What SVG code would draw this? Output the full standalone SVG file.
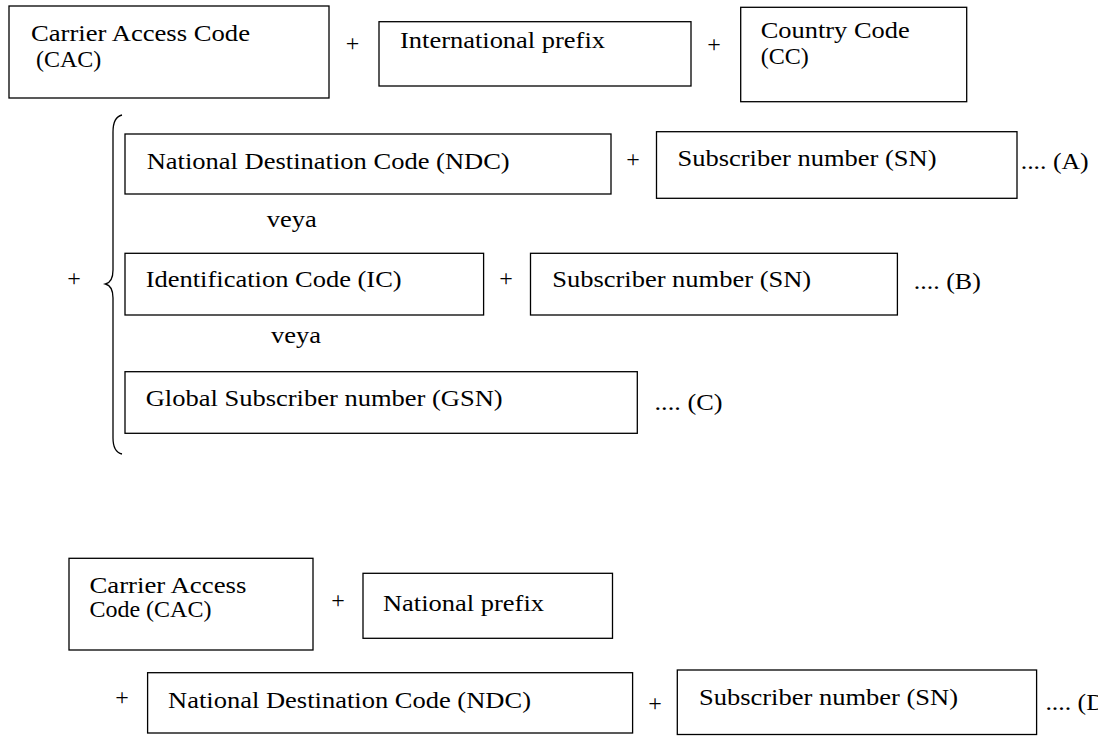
<svg xmlns="http://www.w3.org/2000/svg" width="1098" height="736" viewBox="0 0 1098 736">
<style>
.box{fill:#fff;stroke:#000;stroke-width:1.3}
text{font-family:"Liberation Serif","Times New Roman",serif;font-size:24px;fill:#000}
.op{text-anchor:middle}
.brace{fill:none;stroke:#000;stroke-width:1.3}
</style>
<rect width="1098" height="736" fill="#fff"/>

<g id="cac1"><rect class="box" x="9" y="6" width="320" height="92"/>
<text x="31" y="41" textLength="219" lengthAdjust="spacingAndGlyphs">Carrier Access Code</text>
<text x="36" y="66.5">(CAC)</text></g>

<g id="intprefix"><rect class="box" x="379" y="21.7" width="312" height="64.3"/>
<text x="400" y="47.7" textLength="205" lengthAdjust="spacingAndGlyphs">International prefix</text></g>

<g id="cc"><rect class="box" x="740.7" y="7.3" width="226" height="94.4"/>
<text x="760.7" y="38" textLength="149" lengthAdjust="spacingAndGlyphs">Country Code</text>
<text x="760.7" y="63.5">(CC)</text></g>

<g id="ndcA"><rect class="box" x="125" y="134" width="486" height="60"/>
<text x="146.7" y="169.3" textLength="363" lengthAdjust="spacingAndGlyphs">National Destination Code (NDC)</text></g>

<g id="snA"><rect class="box" x="656.5" y="131.7" width="360.5" height="66.6"/>
<text x="677.5" y="166" textLength="259" lengthAdjust="spacingAndGlyphs">Subscriber number (SN)</text></g>

<g id="ic"><rect class="box" x="125" y="253.3" width="358.6" height="61.7"/>
<text x="145.7" y="286.7" textLength="256" lengthAdjust="spacingAndGlyphs">Identification Code (IC)</text></g>

<g id="snB"><rect class="box" x="530.5" y="253.3" width="366.9" height="61.7"/>
<text x="552.2" y="286.7" textLength="259" lengthAdjust="spacingAndGlyphs">Subscriber number (SN)</text></g>

<g id="gsn"><rect class="box" x="125" y="371.7" width="512.3" height="61.6"/>
<text x="145.7" y="406" textLength="357" lengthAdjust="spacingAndGlyphs">Global Subscriber number (GSN)</text></g>

<g id="cac2"><rect class="box" x="69" y="558.3" width="244" height="91.7"/>
<text x="89.4" y="593.3" textLength="157" lengthAdjust="spacingAndGlyphs">Carrier Access</text>
<text x="89.4" y="617.3">Code (CAC)</text></g>

<g id="natprefix"><rect class="box" x="363" y="573.3" width="249.5" height="65"/>
<text x="383" y="610.7" textLength="161" lengthAdjust="spacingAndGlyphs">National prefix</text></g>

<g id="ndcD"><rect class="box" x="147.6" y="672.7" width="485" height="60.3"/>
<text x="168" y="708.3" textLength="363" lengthAdjust="spacingAndGlyphs">National Destination Code (NDC)</text></g>

<g id="snD"><rect class="box" x="677.3" y="670" width="359.3" height="64.5"/>
<text x="699" y="705" textLength="259" lengthAdjust="spacingAndGlyphs">Subscriber number (SN)</text></g>

<g id="connectors">
<path class="brace" d="M122,115 Q113,117 113,132 L113,270 Q113,282 105.5,284 Q113,286 113,298 L113,438 Q113,452 122,454"/>
<text class="op" x="352.5" y="51">+</text>
<text class="op" x="714" y="52">+</text>
<text class="op" x="74" y="286">+</text>
<text class="op" x="633" y="167">+</text>
<text class="op" x="506" y="286">+</text>
<text class="op" x="338" y="607.7">+</text>
<text class="op" x="122" y="705">+</text>
<text class="op" x="655" y="711">+</text>
</g>

<g id="labels">
<text x="266.7" y="226.7" textLength="50" lengthAdjust="spacingAndGlyphs">veya</text>
<text x="271" y="343.3" textLength="50" lengthAdjust="spacingAndGlyphs">veya</text>
<text x="1020.7" y="168.5" textLength="68" lengthAdjust="spacingAndGlyphs">.... (A)</text>
<text x="913.8" y="289" textLength="67" lengthAdjust="spacingAndGlyphs">.... (B)</text>
<text x="654.5" y="410" textLength="68" lengthAdjust="spacingAndGlyphs">.... (C)</text>
<text x="1045.4" y="710" textLength="68" lengthAdjust="spacingAndGlyphs">.... (D)</text>
</g>
</svg>
